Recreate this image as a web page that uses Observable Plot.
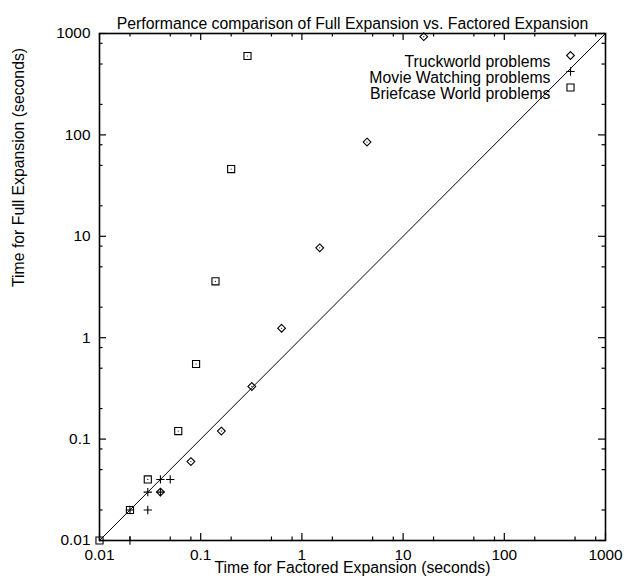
<!DOCTYPE html>
<html>
<head>
<meta charset="utf-8">
<script src="https://cdn.jsdelivr.net/npm/d3@7"></script>
<script src="https://cdn.jsdelivr.net/npm/@observablehq/plot@0.6"></script>
<style>
  html, body { margin: 0; padding: 0; background: #fff; }
  #chart { width: 634px; height: 580px; }
  svg { font-family: "Liberation Sans", Arial, sans-serif; }
</style>
</head>
<body>
<div id="chart"></div>
<script>
// ---- Data ----
const chartTitle = "Performance comparison of Full Expansion vs. Factored Expansion";
const xLabel = "Time for Factored Expansion (seconds)";
const yLabel = "Time for Full Expansion (seconds)";

const seriesNames = ["Truckworld problems", "Movie Watching problems", "Briefcase World problems"];

// Truckworld problems: [factored, full]
const truckFactored = [0.04, 0.08, 0.16, 0.32, 0.63, 1.5, 4.4, 16];
const truckFull     = [0.03, 0.06, 0.12, 0.33, 1.24, 7.7, 85, 930];

// Movie Watching problems
const movieFactored = [0.02, 0.02, 0.03, 0.03, 0.04, 0.04, 0.05];
const movieFull     = [0.01, 0.02, 0.02, 0.03, 0.03, 0.04, 0.04];

// Briefcase World problems
const briefFactored = [0.01, 0.02, 0.03, 0.06, 0.09, 0.14, 0.2, 0.29];
const briefFull     = [0.01, 0.02, 0.04, 0.12, 0.55, 3.6, 46, 600];

// Reference line y = x across the axis domain
const axisDomain = [0.01, 1000];

// Tick values / labels
const tickValues = [0.01, 0.1, 1, 10, 100, 1000];
const tickLabels = ["0.01", "0.1", "1", "10", "100", "1000"];
const minorMultiples = [2, 5, 8];
const minorTicks = tickValues.flatMap(t => minorMultiples.map(m => m * t)).filter(v => v < 1000);

// ---- Build tables ----
const zipPts = (xs, ys) => xs.map((x, i) => ({x, y: ys[i]}));
const truck = zipPts(truckFactored, truckFull);
const movie = zipPts(movieFactored, movieFull);
const brief = zipPts(briefFactored, briefFull);
const diag = axisDomain.map(v => ({x: v, y: v}));
const labelOf = new Map(tickValues.map((v, i) => [v, tickLabels[i]]));

const W = 634, H = 580;
const mL = 99, mR = 29, mT = 33, mB = 40;
const fh = H - mT - mB;
const fw = W - mL - mR;
const major = 7, minor = 3.5;
const FS = 15.8;
const TFS = 15.4;

const legendStyle = [
  {symbol: "diamond2", r: 3.5, dy: 22},
  {symbol: "plus", r: 2.8, dy: 38},
  {symbol: "square", r: 4.0, dy: 54}
];

const legendMarks = seriesNames.flatMap((name, i) => {
  const s = legendStyle[i];
  return [
    Plot.text([name], {frameAnchor: "top-right", dx: -55, dy: s.dy, textAnchor: "end", fontSize: FS, fill: "black"}),
    Plot.dot([name], {frameAnchor: "top-right", dx: -35, dy: s.dy, symbol: s.symbol, r: s.r, stroke: "black", fill: "none", strokeWidth: 1.1})
  ];
});

const chart = Plot.plot({
  width: W,
  height: H,
  marginLeft: mL, marginRight: mR, marginTop: mT, marginBottom: mB,
  style: {fontFamily: "'Liberation Sans', Arial, sans-serif", fontSize: FS + "px", color: "black", background: "white"},
  x: {type: "log", domain: axisDomain},
  y: {type: "log", domain: axisDomain},
  marks: [
    // tick labels
    Plot.axisX(tickValues, {tickSize: 0, tickPadding: 9, tickFormat: d => labelOf.get(d), fontSize: TFS, label: null}),
    Plot.axisY(tickValues, {tickSize: 0, tickPadding: 9, tickFormat: d => labelOf.get(d), fontSize: TFS, label: null}),
    // inward ticks on all four sides
    Plot.tickX(tickValues, {x: d => d, insetTop: fh - major, stroke: "black", strokeWidth: 1.2}),
    Plot.tickX(tickValues, {x: d => d, insetBottom: fh - major, stroke: "black", strokeWidth: 1.2}),
    Plot.tickX(minorTicks, {x: d => d, insetTop: fh - minor, stroke: "black", strokeWidth: 1.2}),
    Plot.tickX(minorTicks, {x: d => d, insetBottom: fh - minor, stroke: "black", strokeWidth: 1.2}),
    Plot.tickY(tickValues, {y: d => d, insetRight: fw - major, stroke: "black", strokeWidth: 1.2}),
    Plot.tickY(tickValues, {y: d => d, insetLeft: fw - major, stroke: "black", strokeWidth: 1.2}),
    Plot.tickY(minorTicks, {y: d => d, insetRight: fw - minor, stroke: "black", strokeWidth: 1.2}),
    Plot.tickY(minorTicks, {y: d => d, insetLeft: fw - minor, stroke: "black", strokeWidth: 1.2}),
    Plot.frame({stroke: "black", strokeWidth: 1.6}),
    // y = x line
    Plot.line(diag, {x: "x", y: "y", stroke: "black", strokeWidth: 1}),
    // data points
    Plot.dot(truck, {x: "x", y: "y", symbol: "diamond2", r: 3.5, stroke: "black", fill: "none", strokeWidth: 1.1}),
    Plot.dot(truck, {x: "x", y: "y", r: 0.6, fill: "black"}),
    Plot.dot(movie, {x: "x", y: "y", symbol: "plus", r: 2.8, stroke: "black", strokeWidth: 1.1}),
    Plot.dot(brief, {x: "x", y: "y", symbol: "square", r: 4.0, stroke: "black", fill: "none", strokeWidth: 1.1}),
    Plot.dot(brief, {x: "x", y: "y", r: 0.6, fill: "black"}),
    // legend
    ...legendMarks,
    // title & axis labels
    Plot.text([chartTitle], {frameAnchor: "top", dy: -16, fontSize: FS, fill: "black"}),
    Plot.text([xLabel], {frameAnchor: "bottom", dy: 32.5, fontSize: FS, fill: "black"}),
    Plot.text([yLabel], {frameAnchor: "left", dx: -81, rotate: -90, fontSize: FS, fill: "black"})
  ]
});

document.getElementById("chart").appendChild(chart);
</script>
</body>
</html>
